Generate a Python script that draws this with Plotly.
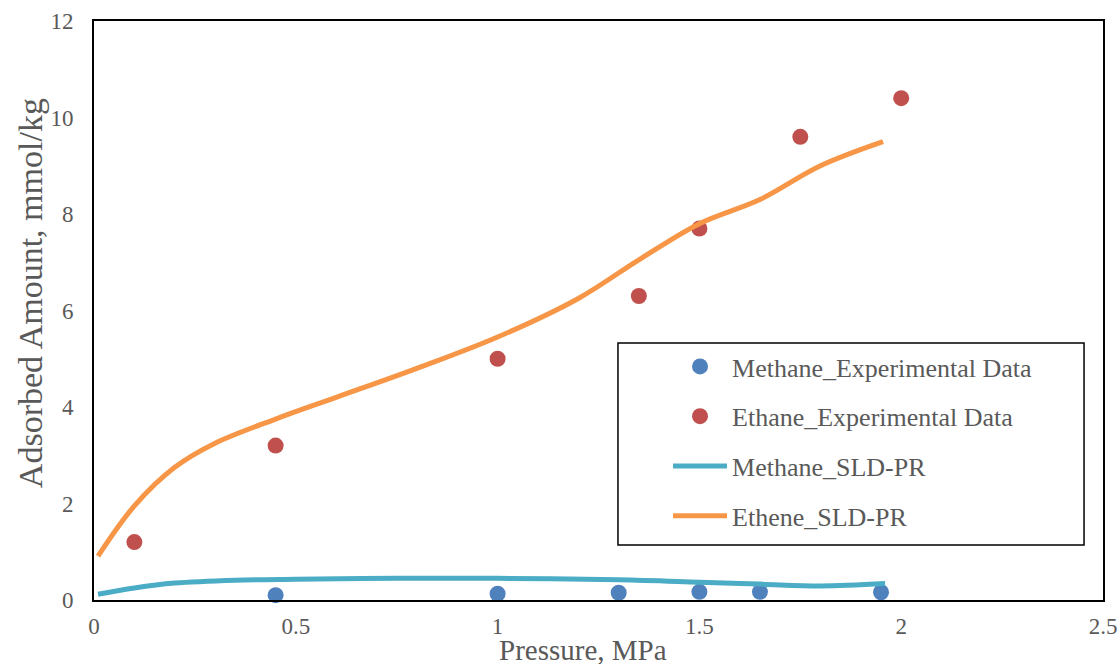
import plotly.graph_objects as go

# Experimental adsorption data
methane_exp_p = [0.45, 1.0, 1.3, 1.5, 1.65, 1.95]
methane_exp_q = [0.10, 0.13, 0.15, 0.17, 0.17, 0.16]

ethane_exp_p = [0.1, 0.45, 1.0, 1.35, 1.5, 1.75, 2.0]
ethane_exp_q = [1.2, 3.2, 5.0, 6.3, 7.7, 9.6, 10.4]

# SLD-PR model predictions
methane_sld_p = [0.01, 0.1, 0.2, 0.35, 0.5, 0.75, 1.0, 1.3, 1.5, 1.65, 1.8, 1.96]
methane_sld_q = [0.12, 0.25, 0.35, 0.41, 0.43, 0.45, 0.45, 0.42, 0.37, 0.33, 0.29, 0.34]

ethene_sld_p = [0.01, 0.1, 0.2, 0.3, 0.45, 0.6, 0.8, 1.0, 1.2, 1.35, 1.5, 1.65, 1.8, 1.955]
ethene_sld_q = [0.91, 1.95, 2.75, 3.25, 3.75, 4.2, 4.8, 5.45, 6.25, 7.05, 7.8, 8.3, 9.0, 9.5]

x_ticks = [0, 0.5, 1, 1.5, 2, 2.5]
y_ticks = [0, 2, 4, 6, 8, 10, 12]

FONT = "Liberation Serif"
TEXT = "#595959"

fig = go.Figure()

fig.add_trace(go.Scatter(
    x=methane_exp_p, y=methane_exp_q, mode="markers",
    name="Methane_Experimental Data", legendgroup="a",
    marker=dict(color="#4F81BD", size=16), cliponaxis=False))
fig.add_trace(go.Scatter(
    x=ethane_exp_p, y=ethane_exp_q, mode="markers",
    name="Ethane_Experimental Data", legendgroup="b",
    marker=dict(color="#C0504D", size=16), cliponaxis=False))
fig.add_trace(go.Scatter(
    x=methane_sld_p, y=methane_sld_q, mode="lines",
    name="Methane_SLD-PR", legendgroup="c",
    line=dict(color="#4BACC6", width=5, shape="spline", smoothing=1)))
fig.add_trace(go.Scatter(
    x=ethene_sld_p, y=ethene_sld_q, mode="lines",
    name="Ethene_SLD-PR", legendgroup="d",
    line=dict(color="#F79646", width=5, shape="spline", smoothing=1)))

axis_common = dict(
    showgrid=False, zeroline=False, showline=True, mirror=True,
    linecolor="black", linewidth=2, ticks="", automargin=False,
    tickfont=dict(family=FONT, size=23, color=TEXT),
)

fig.update_xaxes(range=[0, 2.5], tickvals=x_ticks, ticklabelstandoff=4, **axis_common)
fig.update_yaxes(range=[0, 12], tickvals=y_ticks, ticklabelstandoff=14, **axis_common)

# Legend frame
fig.add_shape(type="rect", xref="paper", yref="paper",
              x0=0.5193, x1=0.9812, y0=0.095, y1=0.444,
              line=dict(color="black", width=1.5), fillcolor="white", layer="below")

fig.add_annotation(text="Pressure, MPa", xref="paper", yref="paper",
                   x=0.4846, y=-0.0864, xanchor="center", yanchor="middle",
                   showarrow=False, font=dict(family=FONT, size=29, color=TEXT))
fig.add_annotation(text="Adsorbed Amount, mmol/kg", xref="paper", yref="paper",
                   x=-0.0634, y=0.53, xanchor="center", yanchor="middle", textangle=-90,
                   showarrow=False, font=dict(family=FONT, size=34, color=TEXT))

fig.update_layout(
    width=1118, height=664,
    margin=dict(l=94, r=15, t=21, b=64, autoexpand=False),
    paper_bgcolor="white", plot_bgcolor="white",
    showlegend=True,
    legend=dict(x=0.5689, y=0.4439, xanchor="left", yanchor="top",
                bgcolor="rgba(0,0,0,0)", borderwidth=0,
                font=dict(family=FONT, size=26, color=TEXT),
                tracegroupgap=13, itemwidth=54),
)

fig.write_html("out.html")
